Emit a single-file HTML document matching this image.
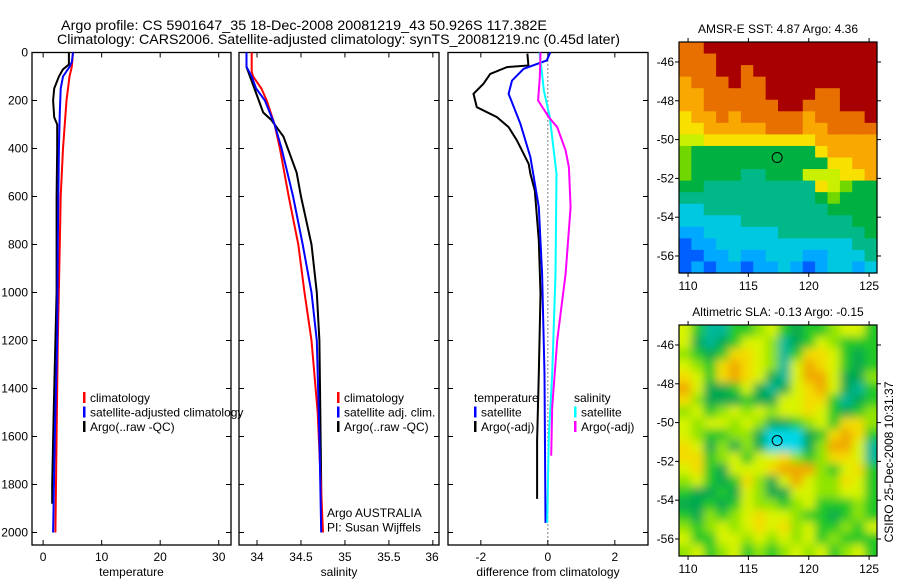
<!DOCTYPE html>
<html><head><meta charset="utf-8">
<style>
html,body{margin:0;padding:0;background:#fff;}
svg{display:block;font-family:"Liberation Sans",sans-serif;}
</style></head>
<body>
<svg id="fig" width="900" height="580" viewBox="0 0 900 580" xmlns="http://www.w3.org/2000/svg">
<defs>
<filter id="smooth" x="-5%" y="-5%" width="110%" height="110%"><feGaussianBlur stdDeviation="4.5"/></filter>
<clipPath id="slaClip"><rect x="679" y="325" width="198" height="231"/></clipPath>
</defs>
<text x="61" y="30" font-size="14" textLength="486" lengthAdjust="spacingAndGlyphs">Argo profile: CS 5901647_35 18-Dec-2008 20081219_43 50.926S 117.382E</text>
<text x="57" y="44" font-size="14" textLength="563" lengthAdjust="spacingAndGlyphs">Climatology: CARS2006. Satellite-adjusted climatology: synTS_20081219.nc (0.45d later)</text>
<g id="g"></g>
</svg>
<script>
// ---------- data ----------
const depthTicks=[0,200,400,600,800,1000,1200,1400,1600,1800,2000];
const tempTicks=[0,10,20,30];
const salTicks=[34,34.5,35,35.5,36];
const diffTicks=[-2,0,2];
// temperature panel
const tClimD=[0,60,100,200,400,600,800,1200,1600,2000];
const tClimV=[5.1,4.9,4.5,4.0,3.4,3.0,2.85,2.5,2.3,2.1];
const tSatD=[0,40,60,100,150,250,400,800,1200,1600,2000];
const tSatV=[5.1,4.9,4.5,3.4,3.0,2.85,2.7,2.5,2.4,2.0,1.7];
const tArgoD=[0,50,70,100,150,200,270,300,400,600,1000,1200,1500,1800,1880];
const tArgoV=[4.4,4.4,3.4,2.7,1.9,1.7,1.9,2.4,2.4,2.3,2.3,2.1,1.8,1.55,1.55];
// salinity panel
const sClimD=[0,80,100,150,200,300,400,600,800,1000,1200,1500,2000];
const sClimV=[33.94,33.94,33.955,34.05,34.11,34.20,34.26,34.36,34.47,34.54,34.62,34.69,34.75];
const sSatD=[0,60,100,150,200,300,400,600,800,1000,1200,1600,2000];
const sSatV=[33.88,33.88,33.94,33.99,34.09,34.20,34.28,34.41,34.52,34.62,34.68,34.71,34.73];
const sArgoD=[0,60,150,200,250,280,300,350,400,500,600,800,1000,1200,1800,1880];
const sArgoV=[33.88,33.88,33.97,34.02,34.07,34.16,34.20,34.30,34.35,34.45,34.50,34.62,34.68,34.71,34.73,34.73];
// difference panel
const dTArgoD=[5,54,61,89,130,172,228,269,311,367,464,506,575,783,1006,1339,1617,1860];
const dTArgoV=[-0.61,-0.58,-1.22,-1.72,-1.92,-2.22,-2.12,-1.52,-1.17,-0.92,-0.57,-0.52,-0.39,-0.27,-0.22,-0.27,-0.32,-0.32];
const dTSatD=[0,33,68,117,172,297,436,644,922,1339,1960];
const dTSatV=[0.07,-0.03,-0.72,-1.07,-1.17,-0.82,-0.52,-0.27,-0.17,-0.10,-0.07];
const dSSatD=[0,89,158,269,506,922,1339,1600,1960];
const dSSatV=[-0.25,-0.17,-0.12,0.06,0.26,0.23,0.13,0.03,-0.02];
const dSArgoD=[0,103,200,269,311,408,478,644,922,1200,1478,1680];
const dSArgoV=[-0.22,-0.24,-0.29,0.03,0.28,0.53,0.63,0.68,0.53,0.28,0.13,0.10];
// maps
const latTicks=[-46,-48,-50,-52,-54,-56];
const lonTicks=[110,115,120,125];
const sstRows=["aabbbbbbbbbbbbbb","aaabbbbbbbbbbbbb","aaabbabbbbbbbbbb","9aaabaabbbbbbbbb","99aaaaabbbbaabbb","99aaaaaabbaaabbb","899a9aaaaa9aaaab","8899999aaa99aaaa","7788888888899999","6555555555589999","6555555555558899","6555544555777889","5544444444487655","4444444444456555","3344444444445555","3333344444444455","2233333344444445","1223333333333344","1122322333223334","1212212232123323"];
const slaRows=["ygttgglygGgglyyg","yGtGgyyltGgylggg","lgGgYYyltgYYygGg","ylgYoYyltyoYygGg","YygYoYyGtyooyGGl","oyGGgyGtGyYoyGtg","YlGGGgGGyyYYgtGg","lyglylylyyYygGgl","ylyylylGGglygYYl","ylggllGcccGgYoYg","YyGlGlGcccGlooyt","YYglygyyYlglYYyt","yYgGyyyYooolgyYg","lygGgYlGyoyllYyg","gGGgGylGGyyllyyg","GGgGgyllglygggLg","gGlglyYyylggGglg","lglylyYyYlygglgy","yggyylylylyglggg","lyglyglglylyglyg"];
const sstColors={"0":"#0000b0","1":"#0060ff","2":"#00a8ff","3":"#00c8e0","4":"#00b888","5":"#00b040","6":"#70d800","7":"#c8f000","8":"#f8e000","9":"#f8a800","a":"#e87000","b":"#a80000"};
const slaColors={"G":"#00a850","g":"#20c828","l":"#90e400","L":"#90e400","y":"#d8f400","Y":"#f4dc00","o":"#f0a800","t":"#00b89a","c":"#00d8e8"};
const obsLon=117.382, obsLat=-50.926;

// ---------- helpers ----------
const NS="http://www.w3.org/2000/svg";
const G=document.getElementById('g');
function el(tag,attrs,parent){const e=document.createElementNS(NS,tag);for(const k in attrs)e.setAttribute(k,attrs[k]);(parent||G).appendChild(e);return e;}
function txt(x,y,s,anchor,size,parent){const t=el('text',{x:x,y:y,'font-size':size||12,'text-anchor':anchor||'start'},parent);t.textContent=s;return t;}

const Y0=52.5, YS=0.24;
function yD(d){return Y0+d*YS;}
const PT=52.5, PB=545;

function panel(name,x0,x1,xmin,xmax,ticks,label,showDepth){
  const grp=el('g',{});
  
  
  const xs=v=>x0+(v-xmin)/(xmax-xmin)*(x1-x0);
  const fr=el('rect',{x:x0,y:PT,width:x1-x0,height:PB-PT,fill:'none',stroke:'#000','stroke-width':1.3},grp);
  
  
  depthTicks.forEach(d=>{
    el('line',{x1:x0,x2:x0+5,y1:yD(d),y2:yD(d),stroke:'#000'},grp);
    el('line',{x1:x1,x2:x1-5,y1:yD(d),y2:yD(d),stroke:'#000'},grp);
    if(showDepth){const t=txt(x0-4,yD(d)+4,String(d),'end',12,grp);
      
      }
  });
  ticks.forEach(v=>{
    const x=xs(v);
    el('line',{x1:x,x2:x,y1:PB,y2:PB-5,stroke:'#000'},grp);
    el('line',{x1:x,x2:x,y1:PT,y2:PT+5,stroke:'#000'},grp);
    let lx=Math.min(x,x1-7);
    const t=txt(lx,PB+16,String(v),'middle',12,grp);
    
    
  });
  const xl=txt((x0+x1)/2,PB+31,label,'middle',12,grp);
  
  
  return {xs:xs,grp:grp};
}
function profile(p,D,V,color,name,w){
  const pts=D.map((d,i)=>p.xs(V[i]).toFixed(1)+','+yD(d).toFixed(1)).join(' ');
  const l=el('polyline',{points:pts,fill:'none',stroke:color,'stroke-width':w||2},p.grp);
  
  
}
function legend(p,x,y,items){
  items.forEach((it,i)=>{
    const yy=y+i*14.5;
    if(it[0]){const r=el('rect',{x:x,y:yy-10,width:2.5,height:11,fill:it[0]},p.grp);
      
      }
    const t=txt(x+(it[0]?7:0),yy,it[1],'start',12,p.grp);
    
    
  });
}

const pT=panel('temperature-panel',32,231,-1.9,32.1,tempTicks,'temperature',true);
profile(pT,tClimD,tClimV,'#ff0000','temp-climatology-line');
profile(pT,tArgoD,tArgoV,'#000000','temp-argo-line');
profile(pT,tSatD,tSatV,'#0000ff','temp-satellite-line');
legend(pT,83,402,[['#ff0000','climatology'],['#0000ff','satellite-adjusted climatology'],['#000000','Argo(..raw -QC)']]);

const pS=panel('salinity-panel',239,439,33.795,36.07,salTicks,'salinity',false);
profile(pS,sArgoD,sArgoV,'#000000','sal-argo-line');
profile(pS,sClimD,sClimV,'#ff0000','sal-climatology-line');
profile(pS,sSatD,sSatV,'#0000ff','sal-satellite-line');
legend(pS,337,402,[['#ff0000','climatology'],['#0000ff','satellite adj. clim.'],['#000000','Argo(..raw -QC)']]);
legend(pS,327,517,[[null,'Argo AUSTRALIA'],[null,'PI: Susan Wijffels']]);

const pD=panel('difference-panel',448,648,-2.98,2.99,diffTicks,'difference from climatology',false);
const zl=el('line',{x1:pD.xs(0),x2:pD.xs(0),y1:yD(0),y2:PB,stroke:'#000','stroke-dasharray':'1,3','stroke-width':1},pD.grp);


profile(pD,dTArgoD,dTArgoV,'#000000','diff-temp-argo-line');
profile(pD,dTSatD,dTSatV,'#0000ff','diff-temp-satellite-line');
profile(pD,dSSatD,dSSatV,'#00ffff','diff-sal-satellite-line');
profile(pD,dSArgoD,dSArgoV,'#ff00ff','diff-sal-argo-line');
legend(pD,474,402,[[null,' temperature'],['#0000ff','satellite'],['#000000','Argo(-adj)']]);
legend(pD,574,402,[[null,'  salinity'],['#00ffff','satellite'],['#ff00ff','Argo(-adj)']]);

const LON0=109.25, LONPX=12.07;
function mapPanel(name,top,rows,colors,title,smooth){
  const x0=679,x1=877,y0=top,y1=top+231;
  const lat0=-44.97, LATPX=19.4;
  const grp=el('g',{});
  
  
  const lx=lon=>x0+(lon-LON0)*LONPX;
  const ly=lat=>y0+(lat0-lat)*LATPX;
  const nr=rows.length, nc=rows[0].length;
  const cw=(x1-x0)/nc, ch=(y1-y0)/nr;
  let holder=grp, cellsG=grp;
  if(smooth){
    holder=el('g',{'clip-path':'url(#slaClip)'},grp);
    cellsG=el('g',{filter:'url(#smooth)'},holder);
  }
  rows.forEach((row,i)=>{
    for(let j=0;j<nc;j++){
      // extend edge cells outward so blur does not fade at borders
      const ex0=(smooth&&j===0)?-8:0, ex1=(smooth&&j===nc-1)?8:0;
      const ey0=(smooth&&i===0)?-8:0, ey1=(smooth&&i===nr-1)?8:0;
      const c=el('rect',{x:(x0+j*cw+ex0).toFixed(2),y:(y0+i*ch+ey0).toFixed(2),width:(cw+0.6-ex0+ex1).toFixed(2),height:(ch+0.6-ey0+ey1).toFixed(2),fill:colors[row[j]]||'#20c828'},cellsG);
      
      
    }
  });
  el('rect',{x:x0,y:y0,width:x1-x0,height:y1-y0,fill:'none',stroke:'#000','stroke-width':1.2},grp);
  latTicks.forEach(l=>{
    const y=ly(l);
    el('line',{x1:x0-4,x2:x0,y1:y,y2:y,stroke:'#000'},grp);
    el('line',{x1:x1,x2:x1+4,y1:y,y2:y,stroke:'#000'},grp);
    const t=txt(x0-5,y+4,String(l),'end',12,grp);
    
    
  });
  lonTicks.forEach(l=>{
    const x=lx(l);
    el('line',{x1:x,x2:x,y1:y1,y2:y1+4,stroke:'#000'},grp);
    el('line',{x1:x,x2:x,y1:y0,y2:y0-4,stroke:'#000'},grp);
    const t=txt(x,y1+17,String(l),'middle',12,grp);
    
    
  });
  const tt=txt((x0+x1)/2,y0-9,title,'middle',12,grp);
  
  
  const m=el('circle',{cx:lx(obsLon),cy:ly(obsLat),r:5,fill:'none',stroke:'#000','stroke-width':1},grp);
  
  
}
mapPanel('sst-map',42,sstRows,sstColors,'AMSR-E SST: 4.87 Argo: 4.36',false);
mapPanel('sla-map',325,slaRows,slaColors,'Altimetric SLA: -0.13 Argo: -0.15',true);
const st=txt(0,0,'CSIRO 25-Dec-2008 10:31:37','middle',12);
st.setAttribute('transform','translate(893,462) rotate(-90)');


</script>
</body></html>
